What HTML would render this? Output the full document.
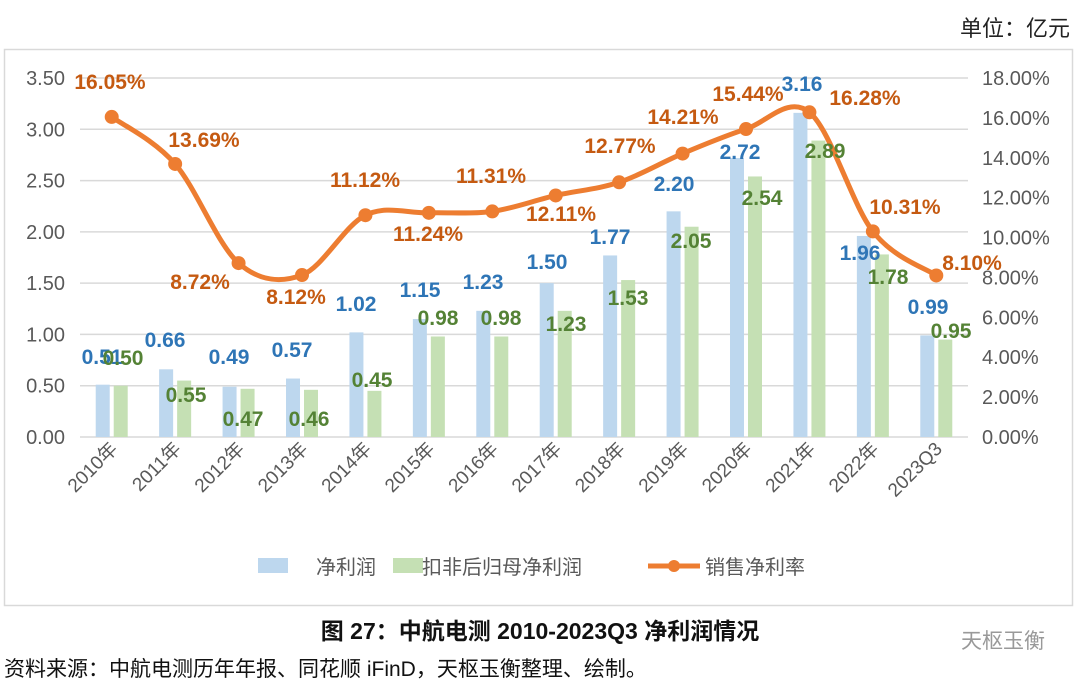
<!DOCTYPE html>
<html><head><meta charset="utf-8"><style>
body{margin:0;width:1080px;height:688px;background:#fff;overflow:hidden;font-family:"Liberation Sans","Noto Sans CJK SC",sans-serif}
svg{position:absolute;left:0;top:0}
</style></head><body>
<svg id="s" width="1080" height="688" xmlns="http://www.w3.org/2000/svg" font-family="Liberation Sans, Noto Sans CJK SC, sans-serif">
<text x="1070" y="36" text-anchor="end" font-size="22" fill="#222">单位：亿元</text>
<rect x="4.5" y="49.5" width="1068" height="556" fill="none" stroke="#d9d9d9" stroke-width="1.5"/>
<g id="g"></g>
<rect x="258" y="558" width="30" height="15" fill="#bdd7ee"/>
<text x="316" y="574" font-size="20" fill="#595959">净利润</text>
<rect x="393" y="558" width="30" height="15" fill="#c5e0b4"/>
<text x="422" y="574" font-size="20" fill="#595959">扣非后归母净利润</text>
<line x1="648" y1="566" x2="700" y2="566" stroke="#ed7d31" stroke-width="5"/>
<circle cx="674" cy="566" r="6" fill="#ed7d31"/>
<text x="705" y="574" font-size="20" fill="#595959">销售净利率</text>
<text x="540" y="639" text-anchor="middle" font-size="23" font-weight="bold" fill="#111">图  27：中航电测 2010-2023Q3 净利润情况</text>
<text x="1045" y="648" text-anchor="end" font-size="21" fill="#999">天枢玉衡</text>
<text x="4" y="676" font-size="21" fill="#111">资料来源：中航电测历年年报、同花顺 iFinD，天枢玉衡整理、绘制。</text>
</svg>
<script>
var g=document.getElementById('g'),h='';
var L=80,R=968,B=437,T=78;
for(var i=0;i<=7;i++){var y=B-i*(B-T)/7;
h+='<line x1="'+L+'" x2="'+R+'" y1="'+y+'" y2="'+y+'" stroke="#d9d9d9" stroke-width="1.5"/>';
h+='<text x="65" y="'+(y+7)+'" text-anchor="end" font-size="20" fill="#595959">'+(i*0.5).toFixed(2)+'</text>';}
for(var i=0;i<=9;i++){var y=B-i*(B-T)/9;
h+='<text x="982" y="'+(y+7)+'" font-size="20" fill="#595959">'+(i*2).toFixed(2)+'%</text>';}
var a=[0.51,0.66,0.49,0.57,1.02,1.15,1.23,1.50,1.77,2.20,2.72,3.16,1.96,0.99];
var b=[0.50,0.55,0.47,0.46,0.45,0.98,0.98,1.23,1.53,2.05,2.54,2.89,1.78,0.95];
var r=[16.05,13.69,8.72,8.12,11.12,11.24,11.31,12.11,12.77,14.21,15.44,16.28,10.31,8.10];
var cat=['2010年','2011年','2012年','2013年','2014年','2015年','2016年','2017年','2018年','2019年','2020年','2021年','2022年','2023Q3'];
var sc=(B-T)/3.5,step=(R-L)/14,P=[];
for(var i=0;i<14;i++){var c=L+step*(i+0.5);
h+='<rect x="'+(c-16)+'" y="'+(B-a[i]*sc)+'" width="14" height="'+(a[i]*sc)+'" fill="#bdd7ee"/>';
h+='<rect x="'+(c+2)+'" y="'+(B-b[i]*sc)+'" width="14" height="'+(b[i]*sc)+'" fill="#c5e0b4"/>';
P.push([c,B-r[i]*(B-T)/18]);
h+='<text transform="translate('+(c+7)+',450) rotate(-45)" text-anchor="end" font-size="19" fill="#595959">'+cat[i]+'</text>';}
var d='M'+P[0];
for(var i=0;i<13;i++){var p0=P[Math.max(i-1,0)],p1=P[i],p2=P[i+1],p3=P[Math.min(i+2,13)];
d+=' C'+(p1[0]+(p2[0]-p0[0])/6)+','+(p1[1]+(p2[1]-p0[1])/6)+' '+(p2[0]-(p3[0]-p1[0])/6)+','+(p2[1]-(p3[1]-p1[1])/6)+' '+p2[0]+','+p2[1];}
h+='<path d="'+d+'" fill="none" stroke="#ed7d31" stroke-width="5"/>';
P.forEach(function(p){h+='<circle cx="'+p[0]+'" cy="'+p[1]+'" r="7" fill="#ed7d31"/>';});
var la=[[102,357],[165,340],[229,357],[292,350],[356,304],[420,290],[483,282],[547,262],[610,237],[674,184],[740,152],[802,84],[860,253],[928,307]];
var lb=[[123,358],[186,395],[243,419],[309,419],[372,380],[438,318],[501,318],[566,324],[628,298],[691,241],[762,198],[825,151],[888,277],[951,331]];
var lr=[[110,82],[204,140],[200,282],[296,297],[365,180],[428,234],[491,176],[561,214],[620,146],[683,117],[748,94],[865,98],[905,207],[972,263]];
function t(p,s,col){return '<text x="'+p[0]+'" y="'+(p[1]+7)+'" text-anchor="middle" font-size="21" font-weight="bold" fill="'+col+'">'+s+'</text>';}
for(var i=0;i<14;i++){h+=t(la[i],a[i].toFixed(2),'#2e75b6');h+=t(lb[i],b[i].toFixed(2),'#548235');}
for(var i=0;i<14;i++){h+=t(lr[i],r[i].toFixed(2)+'%','#c55a11');}
g.innerHTML=h;
</script>
</body></html>
